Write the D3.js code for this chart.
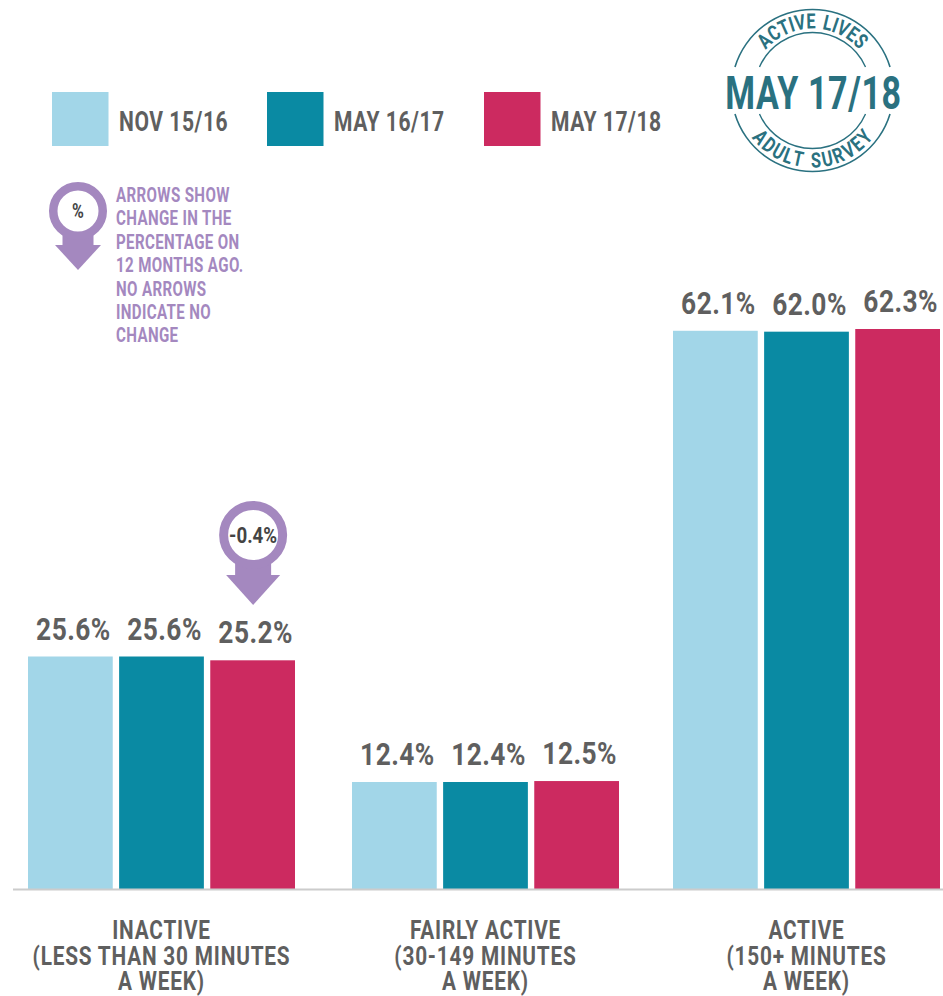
<!DOCTYPE html>
<html><head><meta charset="utf-8">
<script src="https://cdnjs.cloudflare.com/ajax/libs/d3/7.8.5/d3.min.js"></script>
<style>html,body{margin:0;padding:0;background:#fff}svg{display:block}text{font-family:Roboto,"Noto Sans",sans-serif;font-weight:700}</style>
</head><body><svg id="c" width="943" height="996"></svg>
<script>
const categories = ["INACTIVE","FAIRLY ACTIVE","ACTIVE"];
const categoryLines = [["INACTIVE","(LESS THAN 30 MINUTES","A WEEK)"],["FAIRLY ACTIVE","(30-149 MINUTES","A WEEK)"],["ACTIVE","(150+ MINUTES","A WEEK)"]];
const seriesNames = ["NOV 15/16","MAY 16/17","MAY 17/18"];
const seriesColors = ["#a2d6e8","#0a8aa3","#cc2a60"];
const nov1516 = [25.6,12.4,62.1];
const may1617 = [25.6,12.4,62.0];
const may1718 = [25.2,12.5,62.3];
const seriesValues = [nov1516,may1617,may1718];
const noteLines = ["ARROWS SHOW","CHANGE IN THE","PERCENTAGE ON","12 MONTHS AGO.","NO ARROWS","INDICATE NO","CHANGE"];
const changes = [{cat:0,ser:2,label:"-0.4%"}];

const INK="#5f5f5f", PURPLE="#a488bf", TEAL="#2a7180";
const svg=d3.select("#c");
function txt(parent,s,x,y,size,fill,k,anchor,ls){
  return parent.append("text").attr("transform",`translate(${x},${y}) scale(${k},1)`)
    .attr("font-size",size).attr("fill",fill).attr("text-anchor",anchor||"start")
    .attr("letter-spacing",ls||0).text(s);
}
// The reference's bars are not exactly proportional to their labels, so the scale is calibrated at the drawn heights.
const y=d3.scaleLinear().domain([0,12.4,25.6,62.3]).range([889.5,782,656.5,329]);
const groupX=d3.scaleOrdinal().domain(categories).range([28,352,673]);
const x1=d3.scaleBand().domain(seriesNames).range([0,267]).paddingInner(0.07);

categories.forEach((c,ci)=>{
  seriesNames.forEach((s,si)=>{
    const v=seriesValues[si][ci], bx=groupX(c)+x1(s), top=y(v);
    svg.append("rect").attr("x",bx).attr("y",top).attr("width",x1.bandwidth()).attr("height",y(0)-top).attr("fill",seriesColors[si]);
    txt(svg,v.toFixed(1)+"%",bx+x1.bandwidth()/2+3,top-17,31,INK,0.85,"middle",0.5);
  });
  categoryLines[ci].forEach((l,li)=>txt(svg,l,groupX(c)+133.5,939+li*25.5,26,INK,0.8,"middle",1));
});
svg.append("line").attr("x1",13).attr("x2",943).attr("y1",y(0)).attr("y2",y(0)).attr("stroke","#cccccc").attr("stroke-width",2);

// legend
const legendX=d3.scaleOrdinal().domain(seriesNames).range([52,267,484]);
seriesNames.forEach((s,i)=>{
  svg.append("rect").attr("x",legendX(s)).attr("y",92).attr("width",56.5).attr("height",54).attr("fill",seriesColors[i]);
  txt(svg,s,legendX(s)+67,131,27,INK,0.78,"start",0.7);
});

// arrow pins
function pin(cx,cy,ro,ri,sw,hw,headY,tipY,label,size,k){
  const g=svg.append("g");
  g.append("rect").attr("x",cx-sw/2).attr("y",cy).attr("width",sw).attr("height",headY-cy+1).attr("fill",PURPLE);
  g.append("path").attr("d",d3.line()([[cx-hw,headY],[cx+hw,headY],[cx,tipY]])+"Z").attr("fill",PURPLE);
  g.append("circle").attr("cx",cx).attr("cy",cy).attr("r",(ro+ri)/2).attr("fill","#fff").attr("stroke",PURPLE).attr("stroke-width",ro-ri);
  txt(g,label,cx,cy+size*0.36,size,"#444",k,"middle");
}
pin(78,211,29,20.5,31,23,245,270,"%",20,0.8);
changes.forEach(c=>{
  const bx=groupX(categories[c.cat])+x1(seriesNames[c.ser])+x1.bandwidth()/2;
  pin(bx+0.5,535,34,25,36,27,575,605,c.label,22,0.85);
});
// note
noteLines.forEach((l,i)=>txt(svg,l,116,202+i*23.4,21,PURPLE,0.72,"start",0.5));

// badge
const bg=svg.append("g").attr("transform","translate(812.5,90.5)");
const arc=d3.arc();
[[81,1.6],[58,1.4]].forEach(([r,w])=>{
  const a=Math.asin(23.5/r);
  [[-Math.PI/2+a,Math.PI/2-a],[Math.PI/2+a,Math.PI*1.5-a]].forEach(([s,e])=>
    bg.append("path").attr("d",arc({innerRadius:r-w/2,outerRadius:r+w/2,startAngle:s,endAngle:e})).attr("fill",TEAL));
});
function arcText(s,r,halfSpanDeg,bottom,size,k){
  const meas=bg.append("text").attr("font-size",size).attr("visibility","hidden");
  const widths=Array.from(s,ch=>{meas.text(ch==" "?"n":ch);return meas.node().getComputedTextLength()*(ch==" "?0.7:1);});
  meas.remove();
  const total=d3.sum(widths), span=2*halfSpanDeg;
  let acc=0;
  Array.from(s).forEach((ch,i)=>{
    const mid=(acc+widths[i]/2)/total; acc+=widths[i];
    const deg=-halfSpanDeg+span*mid;
    if(ch==" ")return;
    const tf=bottom?`rotate(${-deg}) translate(0,${r}) scale(${k},1)`:`rotate(${deg}) translate(0,${-r}) scale(${k},1)`;
    bg.append("text").attr("transform",tf).attr("font-size",size).attr("fill",TEAL).attr("text-anchor","middle").text(ch);
  });
}
arcText("ACTIVE LIVES",62,49,false,21,0.78);
arcText("ADULT SURVEY",77,53,true,21,0.78);
txt(svg,"MAY 17/18",813.5,109,46,TEAL,0.74,"middle",0.8);
</script></body></html>
